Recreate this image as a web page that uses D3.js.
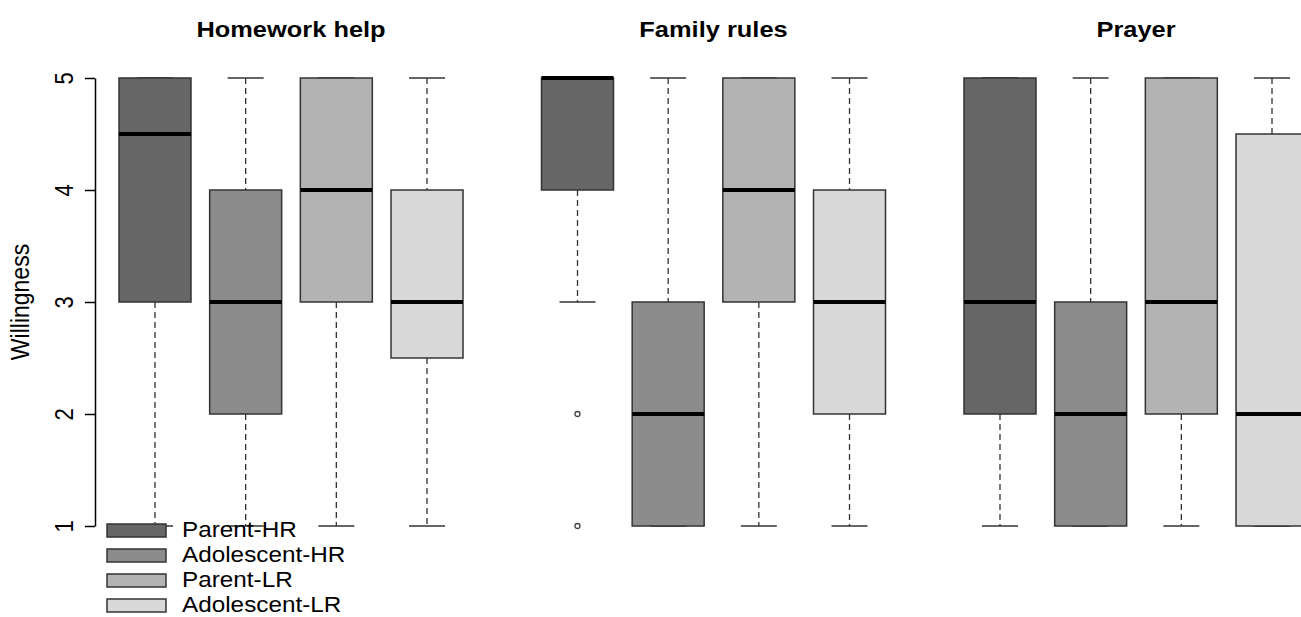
<!DOCTYPE html>
<html>
<head>
<meta charset="utf-8">
<script src="https://cdn.jsdelivr.net/npm/d3@7"></script>
<style>
  html, body { margin: 0; padding: 0; background: #fff; }
  svg { display: block; font-family: "Liberation Sans", Arial, sans-serif; }
</style>
</head>
<body>
<svg id="chart" width="1301" height="617"></svg>
<script>
// Panels (activities) and groups (respondent type)
const panels = ["Homework help", "Family rules", "Prayer"];
const groups = ["Parent-HR", "Adolescent-HR", "Parent-LR", "Adolescent-LR"];
const groupColors = ["#666666", "#8c8c8c", "#b3b3b3", "#d9d9d9"];
const yTicks = [1, 2, 3, 4, 5];

// Five-number summaries per panel, in group order: [lower whisker, Q1, median, Q3, upper whisker]
const homeworkStats = [[1, 3, 4.5, 5, 5], [1, 2, 3, 4, 5], [1, 3, 4, 5, 5], [1, 2.5, 3, 4, 5]];
const familyStats   = [[3, 4, 5, 5, 5], [1, 1, 2, 3, 5], [1, 3, 4, 5, 5], [1, 2, 3, 4, 5]];
const prayerStats   = [[1, 2, 3, 5, 5], [1, 1, 2, 3, 5], [1, 2, 3, 5, 5], [1, 1, 2, 4.5, 5]];
const panelStats = [homeworkStats, familyStats, prayerStats];

// Outlying points: [panel index, group index, value]
const outliers = [[1, 0, 2], [1, 0, 1]];

// text is drawn slightly wide, as in the device output
const SX = 1.13;

const svg = d3.select("#chart");

const y = d3.scaleLinear().domain([1, 5]).range([526, 78]);

const panelX = d3.scaleBand().domain(panels).range([119, 1308]).paddingInner(0.1858);
const boxX = d3.scaleBand().domain(groups).range([0, panelX.bandwidth()]).paddingInner(0.206);
const bw = boxX.bandwidth();

// Y axis (left panel only)
const axisX = 95;
const axis = svg.append("g").attr("transform", `translate(${axisX},0)`)
  .call(d3.axisLeft(y).tickValues(yTicks).tickFormat(d3.format("d")).tickSize(10).tickSizeOuter(0));
axis.select(".domain").attr("stroke", "#000").attr("stroke-width", 1.5);
axis.selectAll(".tick line").attr("stroke", "#000").attr("stroke-width", 1.5);
axis.selectAll(".tick text")
  .attr("font-size", 22).attr("fill", "#000")
  .attr("x", null).attr("dy", null)
  .attr("text-anchor", "middle")
  .attr("transform", `translate(-22,0) scale(${SX},1) rotate(-90)`);

svg.append("text")
  .attr("transform", `translate(29,${y(3)}) scale(${SX},1) rotate(-90)`)
  .attr("text-anchor", "middle")
  .attr("font-size", 23)
  .text("Willingness");

panels.forEach((p, pi) => {
  const g = svg.append("g").attr("transform", `translate(${panelX(p)},0)`);

  g.append("text")
    .attr("transform", `translate(${panelX.bandwidth() / 2},37) scale(${SX},1)`)
    .attr("text-anchor", "middle")
    .attr("font-size", 22.5)
    .attr("font-weight", "bold")
    .text(p);

  panelStats[pi].forEach((s, gi) => {
    const [lo, q1, med, q3, hi] = s;
    const x0 = boxX(groups[gi]);
    const cx = x0 + bw / 2;
    const capW = bw / 2;
    const bg = g.append("g");

    // whiskers
    if (hi > q3) {
      bg.append("line").attr("x1", cx).attr("x2", cx).attr("y1", y(hi)).attr("y2", y(q3))
        .attr("stroke", "#333").attr("stroke-width", 1.3).attr("stroke-dasharray", "6,4");
    }
    if (lo < q1) {
      bg.append("line").attr("x1", cx).attr("x2", cx).attr("y1", y(q1)).attr("y2", y(lo))
        .attr("stroke", "#333").attr("stroke-width", 1.3).attr("stroke-dasharray", "6,4");
    }
    // staples
    [lo, hi].forEach(v => {
      bg.append("line").attr("x1", cx - capW / 2).attr("x2", cx + capW / 2)
        .attr("y1", y(v)).attr("y2", y(v))
        .attr("stroke", "#333").attr("stroke-width", 1.5);
    });
    // box
    bg.append("rect")
      .attr("x", x0).attr("width", bw)
      .attr("y", y(q3)).attr("height", y(q1) - y(q3))
      .attr("fill", groupColors[gi])
      .attr("stroke", "#333").attr("stroke-width", 1.5);
    // median
    bg.append("line").attr("x1", x0).attr("x2", x0 + bw)
      .attr("y1", y(med)).attr("y2", y(med))
      .attr("stroke", "#000").attr("stroke-width", 4);
  });

  outliers.filter(o => o[0] === pi).forEach(o => {
    g.append("circle")
      .attr("cx", boxX(groups[o[1]]) + bw / 2)
      .attr("cy", y(o[2]))
      .attr("r", 2.5)
      .attr("fill", "none")
      .attr("stroke", "#444")
      .attr("stroke-width", 1.3);
  });
});

// Legend
const legend = svg.append("g").attr("transform", "translate(107,524)");
groups.forEach((gname, i) => {
  const row = legend.append("g").attr("transform", `translate(0,${i * 25})`);
  row.append("rect").attr("x", 0).attr("y", 0).attr("width", 59).attr("height", 13)
    .attr("fill", groupColors[i]).attr("stroke", "#333").attr("stroke-width", 1.5);
  row.append("text")
    .attr("transform", `translate(75,13) scale(${SX},1)`)
    .attr("font-size", 21.5)
    .text(gname);
});
</script>
</body>
</html>
